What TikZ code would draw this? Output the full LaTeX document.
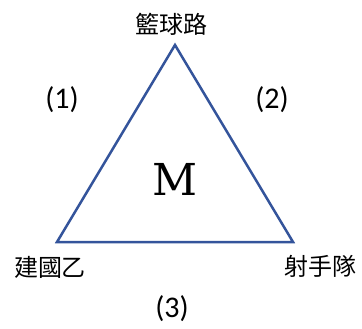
\documentclass[tikz,border=0pt]{standalone}
\usepackage{fontspec}
\newfontfamily\cjk{Noto Sans CJK TC}
\newfontfamily\calfont{Carlito}
\newfontfamily\mfont{DejaVu Serif}
\definecolor{triblue}{RGB}{52,84,155}
\begin{document}
\begin{tikzpicture}[x=1pt,y=-1pt,
  cjklabel/.style={font=\cjk\fontsize{24}{28}\selectfont, inner sep=0pt, anchor=center},
  numlabel/.style={font=\calfont\fontsize{30}{34}\selectfont, inner sep=0pt, anchor=center},
  edge/.style={draw=triblue, line width=2.5pt, line join=miter}]
\useasboundingbox (0,0) rectangle (362,329);
\coordinate (A) at (175,45);
\coordinate (B) at (57,242);
\coordinate (C) at (293,242);
\draw[edge] (A) -- (B) -- (C) -- cycle;
\node[cjklabel] (top) at (171,24) {籃球路};
\node[cjklabel] (bl) at (50,267) {建國乙};
\node[cjklabel] (br) at (320,266) {射手隊};
\node[numlabel] (n1) at (62,100) {(1)};
\node[numlabel] (n2) at (272,100) {(2)};
\node[numlabel] (n3) at (172,309) {(3)};
\node[font=\mfont\fontsize{44}{48}\selectfont, inner sep=0pt, anchor=center] (m) at (175,179) {M};
\end{tikzpicture}
\end{document}
